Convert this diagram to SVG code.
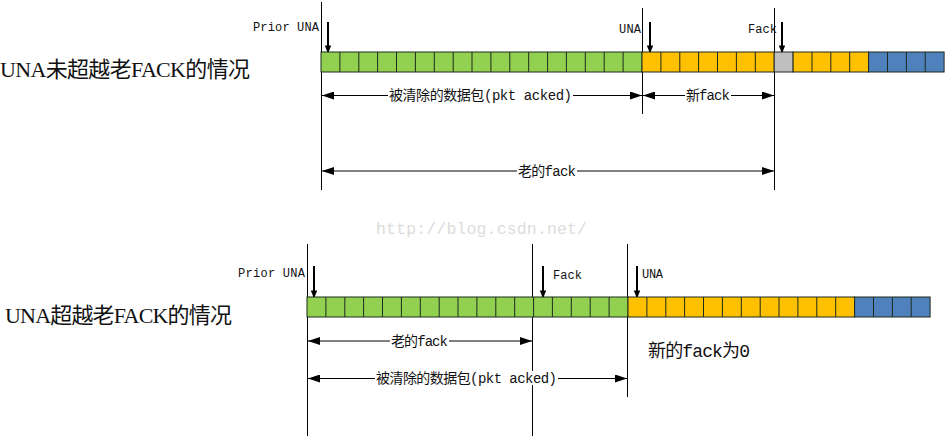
<svg xmlns="http://www.w3.org/2000/svg" width="945" height="436" viewBox="0 0 945 436">
<style>
  .t{font-family:"Liberation Mono","Noto Sans CJK SC",monospace;fill:#111}
  .lbl{font-size:12px}
  .dim{font-size:14px}
  .title{font-family:"Liberation Serif","Noto Sans CJK SC",serif;font-size:22px}
  .bg{fill:#fff}
  .vl{stroke:#000;stroke-width:1;fill:none}
  .dl{stroke:#000;stroke-width:1;fill:none;marker-start:url(#ah);marker-end:url(#ah)}
  .da{stroke:#000;stroke-width:2;fill:none;marker-end:url(#dn)}
  .cell{stroke:#1e2a1e;stroke-width:1}
  .g{fill:#92d050}.o{fill:#ffc000}.s{fill:#bfbfbf}.b{fill:#4f81bd}
</style>
<defs>
  <marker id="ah" viewBox="0 0 12 8" refX="12" refY="4" markerWidth="12" markerHeight="8" markerUnits="userSpaceOnUse" orient="auto-start-reverse">
    <path d="M0,0 L12,4 L0,8 Z" fill="#000"/>
  </marker>
  <marker id="dn" viewBox="0 0 8 10" refX="8" refY="4" markerWidth="10" markerHeight="8" markerUnits="userSpaceOnUse" orient="auto">
    <path d="M0,0 L10,4 L0,8 Z" fill="#000"/>
  </marker>
</defs>
<rect width="945" height="436" fill="#fff"/>

<text x="376" y="234" font-family="Liberation Mono, monospace" font-size="16.5" fill="#dcdcdc" textLength="211">http://blog.csdn.net/</text>

<g id="connectors">
  <path class="vl" d="M321.5,2 V190 M642.5,8 V114 M774.5,8 V190"/>
  <path class="vl" d="M307.5,244 V436 M532.5,244 V436 M627.5,244 V397"/>
  <path class="da" d="M328,22 V52"/>
  <path class="da" d="M650,22 V52"/>
  <path class="da" d="M782,22 V52"/>
  <path class="da" d="M314,266 V297"/>
  <path class="da" d="M543,266 V297"/>
  <path class="da" d="M637,266 V297"/>
  <path class="dl" d="M322,95.5 H642"/>
  <path class="dl" d="M643,95.5 H774"/>
  <path class="dl" d="M322,171 H774"/>
  <path class="dl" d="M308,341 H532"/>
  <path class="dl" d="M308,378.5 H627"/>
</g>

<g id="bar-top">
  <rect class="cell g" x="321" y="52" width="321" height="20"/>
  <rect class="cell o" x="642" y="52" width="132.2" height="20"/>
  <rect class="cell s" x="774.2" y="52" width="18.9" height="20"/>
  <rect class="cell o" x="793.1" y="52" width="75.5" height="20"/>
  <rect class="cell b" x="868.6" y="52" width="75.5" height="20"/>
  <path class="cell" fill="none" d="M339.9,52V72M358.8,52V72M377.6,52V72M396.5,52V72M415.4,52V72M434.3,52V72M453.2,52V72M472,52V72M490.9,52V72M509.8,52V72M528.7,52V72M547.6,52V72M566.4,52V72M585.3,52V72M604.2,52V72M623.1,52V72M660.9,52V72M679.8,52V72M698.6,52V72M717.5,52V72M736.4,52V72M755.3,52V72M812,52V72M830.8,52V72M849.7,52V72M887.5,52V72M906.4,52V72M925.2,52V72"/>
</g>

<g id="bar-bottom">
  <rect class="cell g" x="307" y="297" width="321" height="20"/>
  <rect class="cell o" x="628" y="297" width="226.6" height="20"/>
  <rect class="cell b" x="854.6" y="297" width="75.5" height="20"/>
  <path class="cell" fill="none" d="M325.9,297V317M344.8,297V317M363.6,297V317M382.5,297V317M401.4,297V317M420.3,297V317M439.2,297V317M458,297V317M476.9,297V317M495.8,297V317M514.7,297V317M533.6,297V317M552.4,297V317M571.3,297V317M590.2,297V317M609.1,297V317M646.9,297V317M665.8,297V317M684.6,297V317M703.5,297V317M722.4,297V317M741.3,297V317M760.2,297V317M779,297V317M797.9,297V317M816.8,297V317M835.7,297V317M873.5,297V317M892.4,297V317M911.2,297V317"/>
</g>

<g id="title-top"><text class="t title" x="0" y="77" textLength="250">UNA未超越老FACK的情况</text></g>
<g id="title-bottom"><text class="t title" x="5" y="323" textLength="227">UNA超越老FACK的情况</text></g>

<g id="labels-top">
  <text class="t lbl" x="253" y="31" textLength="66">Prior UNA</text>
  <text class="t lbl" x="619" y="33" textLength="22">UNA</text>
  <text class="t lbl" x="748" y="33" textLength="29">Fack</text>
  <rect class="bg" x="388" y="88" width="185" height="14"/>
  <text class="t dim" x="389" y="100" textLength="183">被清除的数据包(pkt acked)</text>
  <rect class="bg" x="685" y="88" width="46" height="14"/>
  <text class="t dim" x="686" y="100" textLength="44">新fack</text>
  <rect class="bg" x="517" y="164" width="60" height="14"/>
  <text class="t dim" x="518" y="176" textLength="58">老的fack</text>
</g>

<g id="labels-bottom">
  <text class="t lbl" x="238" y="277" textLength="67">Prior UNA</text>
  <text class="t lbl" x="553" y="279" textLength="29">Fack</text>
  <text class="t lbl" x="642" y="278" textLength="21">UNA</text>
  <rect class="bg" x="390" y="334" width="59" height="14"/>
  <text class="t dim" x="391" y="346" textLength="57">老的fack</text>
  <rect class="bg" x="375" y="371" width="183" height="14"/>
  <text class="t dim" x="376" y="383" textLength="181">被清除的数据包(pkt acked)</text>
  <text class="t" x="648" y="357" font-size="18" textLength="102">新的fack为0</text>
</g>
</svg>
